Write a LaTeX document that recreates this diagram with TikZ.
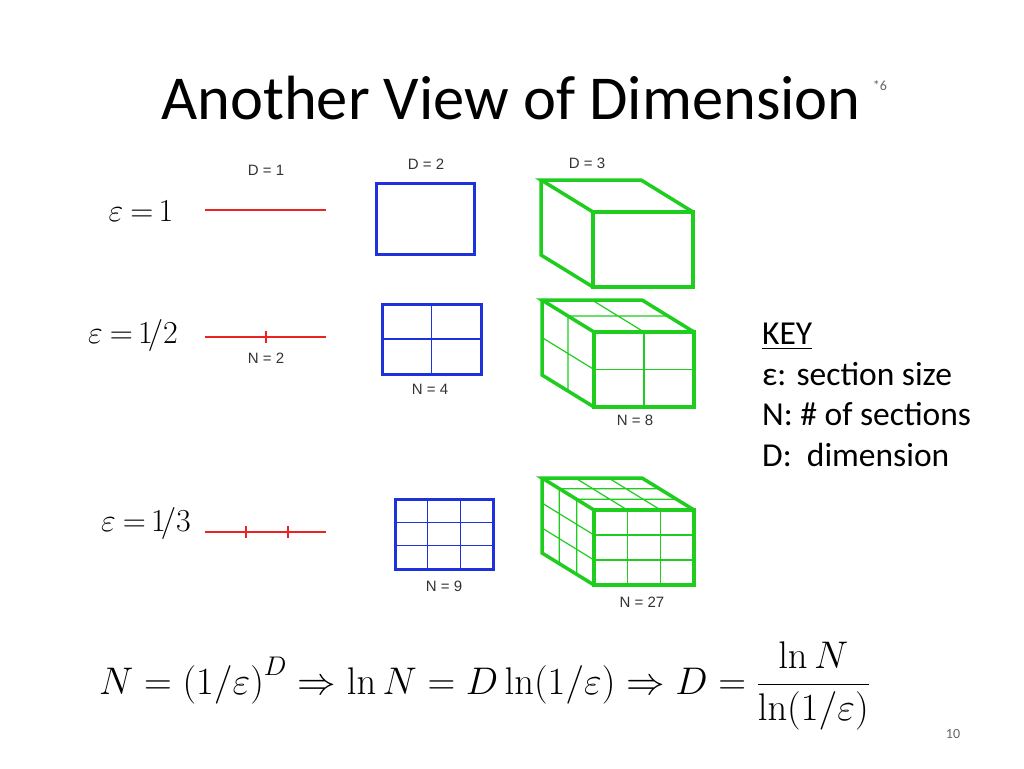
\documentclass[tikz,border=0pt]{standalone}
\usepackage{fix-cm}
\usepackage{amsmath}
\usepackage[no-math]{fontspec}
\setmainfont{Carlito}
\newfontfamily\lab{Liberation Sans}
\definecolor{gr}{RGB}{30,205,30}
\definecolor{bl}{RGB}{30,50,220}
\definecolor{rd}{RGB}{235,35,35}
\tikzset{thin grid/.style={line width=1.2pt},
 outl/.style={line width=3.5pt,line join=miter},
 small/.style={font=\lab\fontsize{15}{17}\selectfont,text=black!80},
 eq/.style={font=\fontsize{32}{40}\selectfont}}
\newcommand\mycube[3]{% x0 y0 n
 \begin{scope}[gr]
 \foreach \i in {1,...,#3}{
  \pgfmathsetmacro\fx{#1+100*\i/#3}\pgfmathsetmacro\fy{#2+75*\i/#3}
  \pgfmathsetmacro\dx{52*\i/#3}\pgfmathsetmacro\dy{32*\i/#3}
  \draw[thin grid] (\fx,#2) -- (\fx,#2+75) (#1,\fy) -- (#1+100,\fy);
  \draw[thin grid] (\fx,#2) -- ++(-52,-32) (#1-\dx,#2-\dy) -- ++(100,0);
  \draw[thin grid] (#1-\dx,#2-\dy) -- ++(0,75) (#1,\fy) -- ++(-52,-32);}
 \draw[outl] (#1,#2) rectangle (#1+100,#2+75);
 \draw[outl] (#1,#2) -- ++(-52,-32) -- ++(100,0) -- (#1+100,#2);
 \draw[outl] (#1-52,#2-32) -- ++(0,75) -- (#1,#2+75);
 \end{scope}}
\newcommand\mysq[5]{% x0 y0 w h n
 \foreach \i in {1,...,#5}{\draw[bl,thin grid] (#1+#3*\i/#5,#2) -- ++(0,#4) (#1,#2+#4*\i/#5) -- ++(#3,0);}
 \draw[bl,line width=3pt] (#1,#2) rectangle ++(#3,#4);}
\begin{document}
\begin{tikzpicture}[x=1pt,y=-1pt]
\path[fill=white] (0,0) rectangle (1024,768);
\node[font=\fontsize{62.5}{68}\selectfont] (title) at (511,98) {Another View of Dimension};
\node[font=\fontsize{14}{16}\selectfont,text=black!60] (star) at (880,86) {*6};
% epsilon labels
\node[eq] (e1) at (141,211) {$\varepsilon\:{=}\,1$};
\node[eq] (e2) at (133,335) {$\varepsilon\:{=}\,1\!/2$};
\node[eq] (e3) at (146,523) {$\varepsilon\:{=}\,1\!/3$};
% lines
\draw[rd,line width=1.8pt] (205,210) -- (326,210);
\draw[rd,line width=2.5pt] (205,337) -- (326,337);
\draw[rd,line width=1.2pt] (266,331) -- (266,343);
\draw[rd,line width=2.5pt] (205,532) -- (326,532);
\draw[rd,line width=1.2pt] (246,526) -- (246,538) (288,526) -- (288,538);
% squares
\mysq{376}{183}{98}{71}{1}
\mysq{382}{304}{99}{70}{2}
\mysq{395}{499}{98}{70}{3}
% cubes
\mycube{593}{212}{1}
\mycube{594}{332}{2}
\mycube{594}{510}{3}
% small labels
\node[small] (d1) at (266,170) {D = 1};
\node[small] (d2) at (426,164) {D = 2};
\node[small] (d3) at (587,163) {D = 3};
\node[small] (n2) at (266,358) {N = 2};
\node[small] (n4) at (430,389) {N = 4};
\node[small] (n8) at (635,420) {N = 8};
\node[small] (n9) at (444,586) {N = 9};
\node[small] (n27) at (642,602) {N = 27};
% key
\node[anchor=north west,font=\fontsize{33.5}{40.5}\selectfont,align=left,inner sep=0pt] (key) at (762,323)
 {\underline{KEY}\\ε: section size\\N: \# of sections\\D:\ \ dimension};
% formula
\node[font=\fontsize{38.5}{46}\selectfont,anchor=west,inner sep=0pt] (f) at (99,686)
 {$N=\left(1/\varepsilon\right)^D\Rightarrow\ln N=D\ln\!\left(1/\varepsilon\right)\Rightarrow D=\dfrac{\ln N}{\ln\!\left(1/\varepsilon\right)}$};
\node[font=\fontsize{14}{16}\selectfont,text=black!60] (pg) at (953,734) {10};
\end{tikzpicture}
\end{document}
